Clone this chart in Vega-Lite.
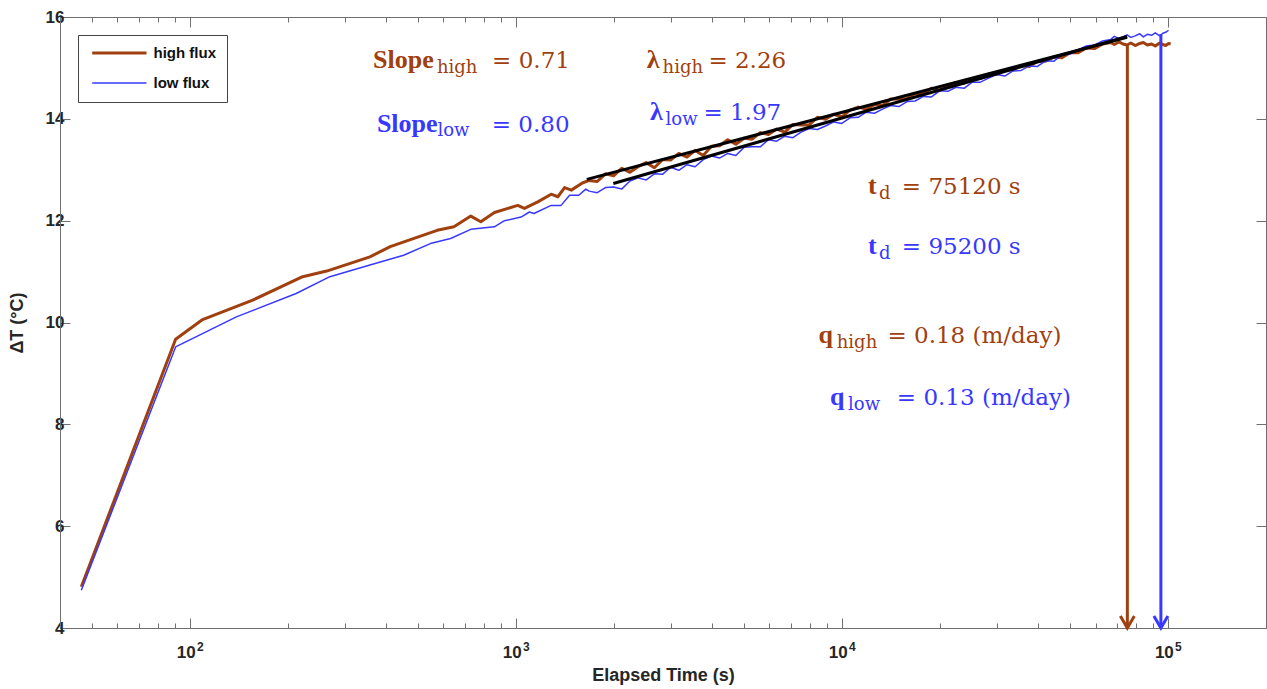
{
  "$schema": "https://vega.github.io/schema/vega-lite/v6.json",
  "width": 1206,
  "height": 611,
  "autosize": {"type": "none"},
  "padding": {"left": 60, "top": 17, "right": 1, "bottom": 61},
  "background": "white",
  "config": {
    "view": {"stroke": "#707070", "strokeWidth": 1},
    "axis": {"grid": false, "domainColor": "#707070", "tickColor": "#707070", "labelFont": "Liberation Sans", "labelFontWeight": "bold", "labelFontSize": 17, "labelColor": "#262626", "titleFont": "Liberation Sans", "titleFontWeight": "bold", "titleFontSize": 18, "titleColor": "#262626"}
  },
  "datasets": {
    "curves": [
      {"s": "high flux", "t": 46.5, "dT": 4.81}, {"s": "high flux", "t": 90.5, "dT": 9.67}, {"s": "high flux", "t": 109, "dT": 10.05}, {"s": "high flux", "t": 156, "dT": 10.44}, {"s": "high flux", "t": 222, "dT": 10.9}, {"s": "high flux", "t": 263, "dT": 11.01}, {"s": "high flux", "t": 357, "dT": 11.29}, {"s": "high flux", "t": 412, "dT": 11.49}, {"s": "high flux", "t": 574, "dT": 11.81}, {"s": "high flux", "t": 646, "dT": 11.88}, {"s": "high flux", "t": 728, "dT": 12.09}, {"s": "high flux", "t": 781, "dT": 11.98}, {"s": "high flux", "t": 860, "dT": 12.16}, {"s": "high flux", "t": 1014, "dT": 12.3}, {"s": "high flux", "t": 1063, "dT": 12.24}, {"s": "high flux", "t": 1168, "dT": 12.37}, {"s": "high flux", "t": 1284, "dT": 12.52}, {"s": "high flux", "t": 1346, "dT": 12.47}, {"s": "high flux", "t": 1412, "dT": 12.65}, {"s": "high flux", "t": 1480, "dT": 12.6}, {"s": "high flux", "t": 1600, "dT": 12.74},
      {"s": "high flux", "t": 1679, "dT": 12.79}, {"s": "high flux", "t": 1778, "dT": 12.77}, {"s": "high flux", "t": 1884, "dT": 12.92}, {"s": "high flux", "t": 1995, "dT": 12.88}, {"s": "high flux", "t": 2113, "dT": 13.03}, {"s": "high flux", "t": 2239, "dT": 12.95}, {"s": "high flux", "t": 2371, "dT": 13.06}, {"s": "high flux", "t": 2512, "dT": 13.14}, {"s": "high flux", "t": 2661, "dT": 13.04}, {"s": "high flux", "t": 2818, "dT": 13.2},
      {"s": "high flux", "t": 2985, "dT": 13.19}, {"s": "high flux", "t": 3162, "dT": 13.32}, {"s": "high flux", "t": 3350, "dT": 13.25}, {"s": "high flux", "t": 3548, "dT": 13.38}, {"s": "high flux", "t": 3758, "dT": 13.28}, {"s": "high flux", "t": 3981, "dT": 13.46}, {"s": "high flux", "t": 4217, "dT": 13.47}, {"s": "high flux", "t": 4467, "dT": 13.59}, {"s": "high flux", "t": 4732, "dT": 13.5}, {"s": "high flux", "t": 5012, "dT": 13.62},
      {"s": "high flux", "t": 5309, "dT": 13.6}, {"s": "high flux", "t": 5623, "dT": 13.73}, {"s": "high flux", "t": 5957, "dT": 13.69}, {"s": "high flux", "t": 6310, "dT": 13.8}, {"s": "high flux", "t": 6683, "dT": 13.74}, {"s": "high flux", "t": 7079, "dT": 13.89}, {"s": "high flux", "t": 7499, "dT": 13.88}, {"s": "high flux", "t": 7943, "dT": 13.88}, {"s": "high flux", "t": 8414, "dT": 14.03}, {"s": "high flux", "t": 8913, "dT": 13.99},
      {"s": "high flux", "t": 9441, "dT": 14.09}, {"s": "high flux", "t": 10000, "dT": 14.04}, {"s": "high flux", "t": 10593, "dT": 14.17}, {"s": "high flux", "t": 11220, "dT": 14.23}, {"s": "high flux", "t": 11885, "dT": 14.19}, {"s": "high flux", "t": 12589, "dT": 14.28}, {"s": "high flux", "t": 13335, "dT": 14.26}, {"s": "high flux", "t": 14125, "dT": 14.39}, {"s": "high flux", "t": 14962, "dT": 14.39}, {"s": "high flux", "t": 15849, "dT": 14.4},
      {"s": "high flux", "t": 16788, "dT": 14.5}, {"s": "high flux", "t": 17783, "dT": 14.5}, {"s": "high flux", "t": 18836, "dT": 14.6}, {"s": "high flux", "t": 19953, "dT": 14.56}, {"s": "high flux", "t": 21135, "dT": 14.66}, {"s": "high flux", "t": 22387, "dT": 14.71}, {"s": "high flux", "t": 23714, "dT": 14.7}, {"s": "high flux", "t": 25119, "dT": 14.78}, {"s": "high flux", "t": 26607, "dT": 14.79}, {"s": "high flux", "t": 28184, "dT": 14.88},
      {"s": "high flux", "t": 29854, "dT": 14.87}, {"s": "high flux", "t": 31623, "dT": 14.96}, {"s": "high flux", "t": 33497, "dT": 14.96}, {"s": "high flux", "t": 35481, "dT": 15.05}, {"s": "high flux", "t": 37584, "dT": 15.03}, {"s": "high flux", "t": 39811, "dT": 15.13}, {"s": "high flux", "t": 42170, "dT": 15.13}, {"s": "high flux", "t": 44668, "dT": 15.22}, {"s": "high flux", "t": 47315, "dT": 15.2}, {"s": "high flux", "t": 50119, "dT": 15.3},
      {"s": "high flux", "t": 53088, "dT": 15.3}, {"s": "high flux", "t": 56234, "dT": 15.39}, {"s": "high flux", "t": 59566, "dT": 15.38}, {"s": "high flux", "t": 63096, "dT": 15.47},
      {"s": "high flux", "t": 66834, "dT": 15.5}, {"s": "high flux", "t": 68500, "dT": 15.46}, {"s": "high flux", "t": 70795, "dT": 15.51}, {"s": "high flux", "t": 72800, "dT": 15.47}, {"s": "high flux", "t": 74989, "dT": 15.45}, {"s": "high flux", "t": 77000, "dT": 15.49}, {"s": "high flux", "t": 79433, "dT": 15.44}, {"s": "high flux", "t": 82000, "dT": 15.48}, {"s": "high flux", "t": 84140, "dT": 15.5}, {"s": "high flux", "t": 86500, "dT": 15.45}, {"s": "high flux", "t": 89125, "dT": 15.47}, {"s": "high flux", "t": 91500, "dT": 15.43}, {"s": "high flux", "t": 94406, "dT": 15.49}, {"s": "high flux", "t": 96500, "dT": 15.46}, {"s": "high flux", "t": 98500, "dT": 15.44}, {"s": "high flux", "t": 100500, "dT": 15.48}, {"s": "high flux", "t": 102000, "dT": 15.47},
      {"s": "low flux", "t": 46.5, "dT": 4.74}, {"s": "low flux", "t": 90.5, "dT": 9.52}, {"s": "low flux", "t": 139, "dT": 10.11}, {"s": "low flux", "t": 212, "dT": 10.57}, {"s": "low flux", "t": 269, "dT": 10.9}, {"s": "low flux", "t": 357, "dT": 11.13}, {"s": "low flux", "t": 453, "dT": 11.32}, {"s": "low flux", "t": 547, "dT": 11.55}, {"s": "low flux", "t": 631, "dT": 11.65}, {"s": "low flux", "t": 728, "dT": 11.83}, {"s": "low flux", "t": 860, "dT": 11.88}, {"s": "low flux", "t": 923, "dT": 12.0}, {"s": "low flux", "t": 1038, "dT": 12.07}, {"s": "low flux", "t": 1101, "dT": 12.17}, {"s": "low flux", "t": 1137, "dT": 12.14}, {"s": "low flux", "t": 1284, "dT": 12.3}, {"s": "low flux", "t": 1377, "dT": 12.3}, {"s": "low flux", "t": 1462, "dT": 12.5}, {"s": "low flux", "t": 1560, "dT": 12.5}, {"s": "low flux", "t": 1640, "dT": 12.62},
      {"s": "low flux", "t": 1679, "dT": 12.58}, {"s": "low flux", "t": 1778, "dT": 12.55}, {"s": "low flux", "t": 1884, "dT": 12.65}, {"s": "low flux", "t": 1995, "dT": 12.66}, {"s": "low flux", "t": 2113, "dT": 12.62}, {"s": "low flux", "t": 2239, "dT": 12.78}, {"s": "low flux", "t": 2371, "dT": 12.84}, {"s": "low flux", "t": 2512, "dT": 12.8}, {"s": "low flux", "t": 2661, "dT": 12.92}, {"s": "low flux", "t": 2818, "dT": 12.91},
      {"s": "low flux", "t": 2985, "dT": 13.05}, {"s": "low flux", "t": 3162, "dT": 12.99}, {"s": "low flux", "t": 3350, "dT": 13.1}, {"s": "low flux", "t": 3548, "dT": 13.06}, {"s": "low flux", "t": 3758, "dT": 13.2}, {"s": "low flux", "t": 3981, "dT": 13.27}, {"s": "low flux", "t": 4217, "dT": 13.23}, {"s": "low flux", "t": 4467, "dT": 13.32}, {"s": "low flux", "t": 4732, "dT": 13.28}, {"s": "low flux", "t": 5012, "dT": 13.44},
      {"s": "low flux", "t": 5309, "dT": 13.45}, {"s": "low flux", "t": 5623, "dT": 13.45}, {"s": "low flux", "t": 5957, "dT": 13.59}, {"s": "low flux", "t": 6310, "dT": 13.56}, {"s": "low flux", "t": 6683, "dT": 13.66}, {"s": "low flux", "t": 7079, "dT": 13.63}, {"s": "low flux", "t": 7499, "dT": 13.74}, {"s": "low flux", "t": 7943, "dT": 13.81}, {"s": "low flux", "t": 8414, "dT": 13.79}, {"s": "low flux", "t": 8913, "dT": 13.86},
      {"s": "low flux", "t": 9441, "dT": 13.94}, {"s": "low flux", "t": 10000, "dT": 13.91}, {"s": "low flux", "t": 10593, "dT": 14.02}, {"s": "low flux", "t": 11220, "dT": 14.03}, {"s": "low flux", "t": 11885, "dT": 14.13}, {"s": "low flux", "t": 12589, "dT": 14.11}, {"s": "low flux", "t": 13335, "dT": 14.19}, {"s": "low flux", "t": 14125, "dT": 14.26}, {"s": "low flux", "t": 14962, "dT": 14.24}, {"s": "low flux", "t": 15849, "dT": 14.34},
      {"s": "low flux", "t": 16788, "dT": 14.35}, {"s": "low flux", "t": 17783, "dT": 14.44}, {"s": "low flux", "t": 18836, "dT": 14.43}, {"s": "low flux", "t": 19953, "dT": 14.55}, {"s": "low flux", "t": 21135, "dT": 14.54}, {"s": "low flux", "t": 22387, "dT": 14.62}, {"s": "low flux", "t": 23714, "dT": 14.6}, {"s": "low flux", "t": 25119, "dT": 14.72}, {"s": "low flux", "t": 26607, "dT": 14.72}, {"s": "low flux", "t": 28184, "dT": 14.8},
      {"s": "low flux", "t": 29854, "dT": 14.87}, {"s": "low flux", "t": 31623, "dT": 14.84}, {"s": "low flux", "t": 33497, "dT": 14.94}, {"s": "low flux", "t": 35481, "dT": 14.95}, {"s": "low flux", "t": 37584, "dT": 15.04}, {"s": "low flux", "t": 39811, "dT": 15.03}, {"s": "low flux", "t": 42170, "dT": 15.14}, {"s": "low flux", "t": 44668, "dT": 15.13}, {"s": "low flux", "t": 47315, "dT": 15.26}, {"s": "low flux", "t": 50119, "dT": 15.27},
      {"s": "low flux", "t": 53088, "dT": 15.36}, {"s": "low flux", "t": 56234, "dT": 15.43}, {"s": "low flux", "t": 59566, "dT": 15.45}, {"s": "low flux", "t": 63096, "dT": 15.53},
      {"s": "low flux", "t": 66834, "dT": 15.56}, {"s": "low flux", "t": 68500, "dT": 15.62}, {"s": "low flux", "t": 70795, "dT": 15.58}, {"s": "low flux", "t": 72800, "dT": 15.61}, {"s": "low flux", "t": 74989, "dT": 15.65}, {"s": "low flux", "t": 77000, "dT": 15.6}, {"s": "low flux", "t": 79433, "dT": 15.63}, {"s": "low flux", "t": 82000, "dT": 15.67}, {"s": "low flux", "t": 84140, "dT": 15.61}, {"s": "low flux", "t": 86500, "dT": 15.66}, {"s": "low flux", "t": 89125, "dT": 15.64}, {"s": "low flux", "t": 91500, "dT": 15.69}, {"s": "low flux", "t": 94406, "dT": 15.63}, {"s": "low flux", "t": 96500, "dT": 15.68}, {"s": "low flux", "t": 98500, "dT": 15.7}, {"s": "low flux", "t": 100500, "dT": 15.74}
    ],
    "fits": [
      {"f": "high", "t": 1651, "dT": 12.81}, {"f": "high", "t": 75000, "dT": 15.6},
      {"f": "low", "t": 1992, "dT": 12.73}, {"f": "low", "t": 75000, "dT": 15.62}
    ],
    "arrows": [
      {"s": "high flux", "t": 75120, "top": 15.46},
      {"s": "low flux", "t": 95200, "top": 15.66}
    ],
    "notes": [
      {"k": "lab", "s": "high flux", "t": 365, "v": 15.0, "txt": "Slope"},
      {"k": "sub", "s": "high flux", "t": 573, "v": 14.9, "txt": "high"},
      {"k": "rest", "s": "high flux", "t": 846, "v": 15.0, "txt": "= 0.71"},
      {"k": "lab", "s": "low flux", "t": 375, "v": 13.74, "txt": "Slope"},
      {"k": "sub", "s": "low flux", "t": 575, "v": 13.66, "txt": "low"},
      {"k": "rest", "s": "low flux", "t": 844, "v": 13.74, "txt": "= 0.80"},
      {"k": "lab", "s": "high flux", "t": 2522, "v": 15.0, "txt": "λ"},
      {"k": "sub", "s": "high flux", "t": 2820, "v": 14.9, "txt": "high"},
      {"k": "rest", "s": "high flux", "t": 3897, "v": 15.0, "txt": "= 2.26"},
      {"k": "lab", "s": "low flux", "t": 2582, "v": 13.97, "txt": "λ"},
      {"k": "sub", "s": "low flux", "t": 2880, "v": 13.88, "txt": "low"},
      {"k": "rest", "s": "low flux", "t": 3762, "v": 13.97, "txt": "= 1.97"},
      {"k": "lab", "s": "high flux", "t": 12039, "v": 12.52, "txt": "t"},
      {"k": "sub", "s": "high flux", "t": 13000, "v": 12.42, "txt": "d"},
      {"k": "rest", "s": "high flux", "t": 15276, "v": 12.52, "txt": "= 75120 s"},
      {"k": "lab", "s": "low flux", "t": 12039, "v": 11.34, "txt": "t"},
      {"k": "sub", "s": "low flux", "t": 13000, "v": 11.24, "txt": "d"},
      {"k": "rest", "s": "low flux", "t": 15276, "v": 11.34, "txt": "= 95200 s"},
      {"k": "lab", "s": "high flux", "t": 8475, "v": 9.59, "txt": "q"},
      {"k": "sub", "s": "high flux", "t": 9650, "v": 9.49, "txt": "high"},
      {"k": "rest", "s": "high flux", "t": 13801, "v": 9.59, "txt": "= 0.18 (m/day)"},
      {"k": "lab", "s": "low flux", "t": 9205, "v": 8.38, "txt": "q"},
      {"k": "sub", "s": "low flux", "t": 10450, "v": 8.28, "txt": "low"},
      {"k": "rest", "s": "low flux", "t": 14746, "v": 8.38, "txt": "= 0.13 (m/day)"}
    ]
  },
  "resolve": {"axis": {"x": "independent", "y": "independent"}},
  "layer": [
    {
      "data": {"name": "curves"},
      "mark": {"type": "line", "strokeJoin": "round"},
      "encoding": {
        "x": {"field": "t", "type": "quantitative", "scale": {"type": "log", "domain": [40, 200000], "nice": false},
              "axis": {"orient": "bottom", "values": [100, 1000, 10000, 100000], "tickSize": -10, "domain": true, "labelPadding": 26, "labelOffset": -4, "labelExpr": "'10'", "title": "Elapsed Time (s)", "titlePadding": 6}},
        "y": {"field": "dT", "type": "quantitative", "scale": {"domain": [4, 16], "nice": false, "zero": false},
              "axis": {"orient": "left", "values": [4, 6, 8, 10, 12, 14, 16], "tickSize": -10, "labelPadding": 6, "title": "ΔT (°C)", "titlePadding": 19}},
        "color": {"field": "s", "type": "ordinal", "scale": {"domain": ["high flux", "low flux"], "range": ["#A0400F", "#3838FF"]},
                  "legend": {"orient": "none", "legendX": 18, "legendY": 18, "title": null, "symbolType": "M-0.7,0L9.3,0", "symbolSize": 118, "labelFont": "Liberation Sans", "labelFontWeight": "bold", "labelFontSize": 15, "labelColor": "#111", "labelExpr": "datum.label + '\u00a0\u00a0'", "strokeColor": "#444", "fillColor": "white", "padding": 10.5, "rowPadding": 14, "labelOffset": 50}},
        "strokeWidth": {"field": "s", "type": "ordinal", "scale": {"domain": ["high flux", "low flux"], "range": [3, 1.5]},
                  "legend": {"orient": "none", "legendX": 18, "legendY": 18, "title": null, "symbolType": "M-0.7,0L9.3,0", "symbolSize": 118, "labelFont": "Liberation Sans", "labelFontWeight": "bold", "labelFontSize": 15, "labelColor": "#111", "labelExpr": "datum.label + '\u00a0\u00a0'", "strokeColor": "#444", "fillColor": "white", "padding": 10.5, "rowPadding": 14, "labelOffset": 50}},
        "detail": {"field": "s"}
      }
    },
    {
      "data": {"name": "fits"},
      "mark": {"type": "line", "color": "black", "strokeWidth": 3},
      "encoding": {
        "x": {"field": "t", "type": "quantitative", "axis": {"orient": "bottom", "values": [50, 60, 70, 80, 90, 200, 300, 400, 500, 600, 700, 800, 900, 2000, 3000, 4000, 5000, 6000, 7000, 8000, 9000, 20000, 30000, 40000, 50000, 60000, 70000, 80000, 90000], "tickSize": -5, "labels": false, "domain": false, "title": null}},
        "y": {"field": "dT", "type": "quantitative", "axis": {"orient": "right", "values": [4, 6, 8, 10, 12, 14, 16], "tickSize": -10, "labels": false, "domain": false, "title": null}},
        "detail": {"field": "f"}
      }
    },
    {
      "data": {"name": "arrows"},
      "mark": {"type": "rule", "strokeWidth": 3},
      "encoding": {
        "x": {"field": "t", "type": "quantitative", "axis": {"orient": "top", "values": [100, 1000, 10000, 100000], "tickSize": -10, "labels": false, "domain": false, "title": null}},
        "y": {"field": "top", "type": "quantitative", "axis": null},
        "y2": {"datum": 4},
        "color": {"field": "s", "type": "ordinal", "legend": null}
      }
    },
    {
      "data": {"name": "arrows"},
      "mark": {"type": "point", "shape": "M-1,-1.7L0,0L1,-1.7", "filled": false, "strokeWidth": 3, "size": 196, "opacity": 1},
      "encoding": {
        "x": {"field": "t", "type": "quantitative", "axis": {"orient": "top", "values": [50, 60, 70, 80, 90, 200, 300, 400, 500, 600, 700, 800, 900, 2000, 3000, 4000, 5000, 6000, 7000, 8000, 9000, 20000, 30000, 40000, 50000, 60000, 70000, 80000, 90000], "tickSize": -5, "labels": false, "domain": false, "title": null}},
        "y": {"datum": 4, "type": "quantitative", "axis": null},
        "color": {"field": "s", "type": "ordinal", "legend": null}
      }
    },
    {
      "data": {"name": "notes"},
      "transform": [{"filter": "datum.k == 'lab'"}],
      "mark": {"type": "text", "align": "left", "baseline": "alphabetic", "font": "Liberation Serif", "fontWeight": "bold", "fontSize": 26},
      "encoding": {
        "x": {"field": "t", "type": "quantitative", "axis": {"orient": "bottom", "values": [100, 1000, 10000, 100000], "ticks": false, "domain": false, "title": null, "labelExpr": "'' + round(log(datum.value)/LN10)", "labelFontSize": 12, "labelOffset": 10, "labelPadding": 13}},
        "y": {"field": "v", "type": "quantitative", "axis": null},
        "text": {"field": "txt"},
        "color": {"field": "s", "type": "ordinal", "legend": null}
      }
    },
    {
      "data": {"name": "notes"},
      "transform": [{"filter": "datum.k == 'sub'"}],
      "mark": {"type": "text", "align": "left", "baseline": "alphabetic", "font": "DejaVu Serif", "fontSize": 18},
      "encoding": {
        "x": {"field": "t", "type": "quantitative", "axis": null},
        "y": {"field": "v", "type": "quantitative", "axis": null},
        "text": {"field": "txt"},
        "color": {"field": "s", "type": "ordinal", "legend": null}
      }
    },
    {
      "data": {"name": "notes"},
      "transform": [{"filter": "datum.k == 'rest'"}],
      "mark": {"type": "text", "align": "left", "baseline": "alphabetic", "font": "DejaVu Serif", "fontSize": 23},
      "encoding": {
        "x": {"field": "t", "type": "quantitative", "axis": null},
        "y": {"field": "v", "type": "quantitative", "axis": null},
        "text": {"field": "txt"},
        "color": {"field": "s", "type": "ordinal", "legend": null}
      }
    }
  ]
}
